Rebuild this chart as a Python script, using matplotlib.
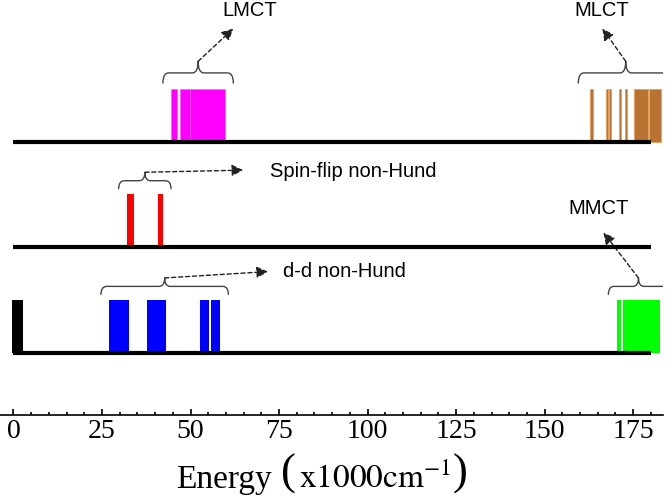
import numpy as np
import matplotlib.pyplot as plt
from matplotlib.path import Path
from matplotlib.patches import PathPatch

# excited state bands: left edge and width (x1000 cm-1), one list per level
ground_left = [-0.5]
ground_width = [3.3]

dd_left = [27.0, 28.7, 37.7, 40.5, 52.7, 55.8]
dd_width = [1.7, 4.0, 2.8, 2.5, 2.4, 2.6]

mmct_left = [170.3, 172.1]
mmct_width = [1.4, 10.6]

spin_left = [32.0, 40.7]
spin_width = [2.1, 1.5]

lmct_left = [44.5, 47.1, 49.9]
lmct_width = [1.7, 2.8, 9.9]

mlct_left = [162.9, 167.2, 168.2, 170.9, 172.6, 175.1, 179.5]
mlct_width = [0.8, 0.6, 0.6, 0.8, 0.8, 4.0, 3.4]

levels = [0, 1, 2]
xticks = [0, 25, 50, 75, 100, 125, 150, 175]

plt.rcParams['mathtext.fontset'] = 'stix'

fig = plt.figure(figsize=(6.72, 4.97), dpi=100)
ax = fig.add_axes([0.0, 0.165, 0.987, 0.835])

H = 0.5  # bar height


def bars(left, width, level, color, ec='none', lw=0):
    ax.bar(left, [H] * len(left), width=width, bottom=level, align='edge',
           color=color, edgecolor=ec, linewidth=lw, zorder=2)


def brace(left, width, level, pad=2.3, y0=0.55, y1=0.63, y2=0.71):
    x0 = min(left) - pad
    x1 = max(np.array(left) + np.array(width)) + pad
    xm = (x0 + x1) / 2
    r = 1.6
    b, t, p = level + y0, level + y1, level + y2
    verts = [(x0, b), (x0, t), (x0 + r, t),
             (xm - r, t), (xm, t), (xm, p),
             (xm, t), (xm + r, t),
             (x1 - r, t), (x1, t), (x1, b)]
    codes = [Path.MOVETO, Path.CURVE3, Path.CURVE3,
             Path.LINETO, Path.CURVE3, Path.CURVE3,
             Path.CURVE3, Path.CURVE3,
             Path.LINETO, Path.CURVE3, Path.CURVE3]
    ax.add_patch(PathPatch(Path(verts, codes), fc='none', ec='#444444',
                           lw=1.0, zorder=3))
    return xm, p


def pointer(start, end):
    ax.annotate('', xy=end, xytext=start,
                arrowprops=dict(arrowstyle='-|>', color='#222222', lw=1.0,
                                linestyle=(0, (3, 2)), mutation_scale=17,
                                shrinkA=0, shrinkB=0))


ax.hlines(levels, 0, 180, color='black', lw=3, zorder=4)

bars(ground_left, ground_width, 0, 'black')
bars(dd_left, dd_width, 0, '#0000ff')
bars(mmct_left, mmct_width, 0, '#00ff00')
bars(spin_left, spin_width, 1, '#ff0000')
bars(lmct_left, lmct_width, 2, '#ff00ff', ec='#ff55ff', lw=0.4)
bars(mlct_left, mlct_width, 2, '#b87333', ec='#e8a060', lw=0.7)

tfont = dict(family='Liberation Sans', fontsize=14.5)

tip = brace(dd_left, dd_width, 0)
pointer(tip, (71.9, 0.77))
ax.text(76.2, 0.77, 'd-d non-Hund', va='center', ha='left', **tfont)

tip = brace(mmct_left, mmct_width, 0)
pointer(tip, (166.6, 1.14))
ax.text(165.2, 1.37, 'MMCT', va='center', ha='center', **tfont)

tip = brace(spin_left, spin_width, 1)
pointer(tip, (64.9, 1.73))
ax.text(72.5, 1.72, 'Spin-flip non-Hund', va='center', ha='left', **tfont)

tip = brace(lmct_left, lmct_width, 2, y1=0.65, y2=0.76)
pointer(tip, (62.1, 3.07))
ax.text(66.6, 3.24, 'LMCT', va='center', ha='center', **tfont)

tip = brace(mlct_left, mlct_width, 2, pad=3.4, y1=0.65, y2=0.76)
pointer(tip, (166.3, 3.07))
ax.text(166.2, 3.24, 'MLCT', va='center', ha='center', **tfont)

ax.set_xlim(-3.8, 183.5)
ax.set_ylim(-0.587, 3.34)

for s in ['left', 'right', 'top']:
    ax.spines[s].set_visible(False)
ax.spines['bottom'].set_linewidth(1.2)
ax.set_yticks([])
ax.set_xticks(xticks)
ax.set_xticks(np.arange(0, 181, 5), minor=True)
ax.tick_params(axis='x', which='major', direction='in', length=4, width=1.2,
               labelsize=20, pad=3)
ax.tick_params(axis='x', which='minor', direction='in', length=2, width=1.2)
for lab in ax.get_xticklabels():
    lab.set_family('Liberation Serif')

# x label built from pieces so the brackets can be tall
renderer = fig.canvas.get_renderer()
W = fig.bbox.width
pieces = [('Energy', 24, 0.018, 'baseline', 0.014),
          ('(', 32, 0.047, 'center', 0.004),
          (r'$\mathrm{x1000cm^{-1}}$', 24, 0.018, 'baseline', 0.003),
          (')', 32, 0.047, 'center', 0.0)]
xpos = 176 / W
for txt, size, ypos, va, gap in pieces:
    t = fig.text(xpos, ypos, txt, fontsize=size, family='Liberation Serif',
                 ha='left', va=va)
    xpos += t.get_window_extent(renderer).width / W + gap

fig.savefig('out.png', dpi=100)
